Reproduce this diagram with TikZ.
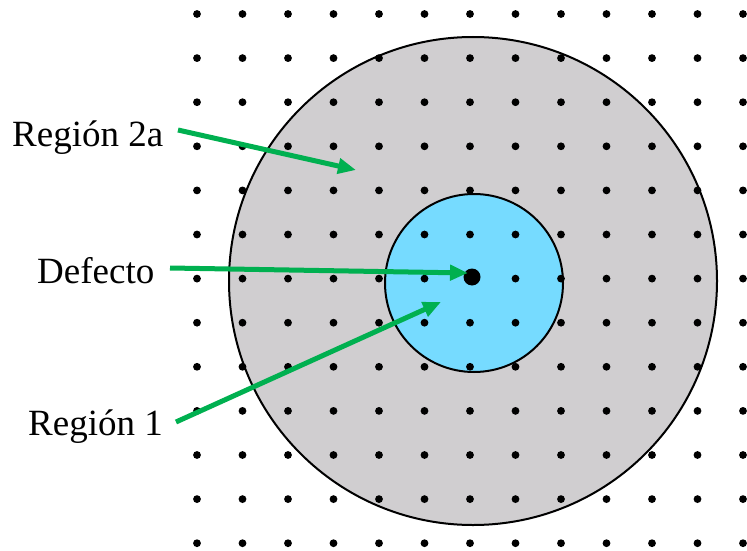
\documentclass[tikz,border=0pt]{standalone}
\usepackage{fontspec}
\setmainfont{Liberation Serif}
\usetikzlibrary{arrows.meta}
\definecolor{grayfill}{RGB}{208,206,208}
\definecolor{bluefill}{RGB}{118,219,255}
\definecolor{arrowgreen}{RGB}{0,176,80}
\begin{document}
\begin{tikzpicture}[x=1pt,y=-1pt,
  lbl/.style={font=\fontsize{37}{40}\selectfont, anchor=base west, inner sep=0pt},
  garrow/.style={draw=arrowgreen, line width=5pt, -{Triangle[length=18pt,width=15pt]}},
  griddot/.style={fill=black}]
\useasboundingbox (0,0) rectangle (747,551);
% regions
\draw[fill=grayfill, line width=2pt] (473,281) circle[radius=244];
\draw[fill=bluefill, line width=2pt] (474,283) circle[radius=89];
% lattice
\foreach \i in {0,...,12}{
  \foreach \j in {0,...,12}{
    \fill[griddot] ({197+45.5*\i},{14+44.1*\j}) circle[radius=3.9];
  }
}
% defect
\fill (472,277) circle[radius=8.5];
% labels
\node[lbl] (r2a) at (12,146) {Región 2a};
\node[lbl] (def) at (37,283) {Defecto};
\node[lbl] (r1) at (28,435) {Región 1};
\coordinate (t2a) at (356,170);
\coordinate (tdef) at (468,273);
\coordinate (tr1) at (441,302);
\draw[garrow] (178,130) -- (t2a);
\draw[garrow] (170,268) -- (tdef);
\draw[garrow] (176,422) -- (tr1);
\end{tikzpicture}
\end{document}
